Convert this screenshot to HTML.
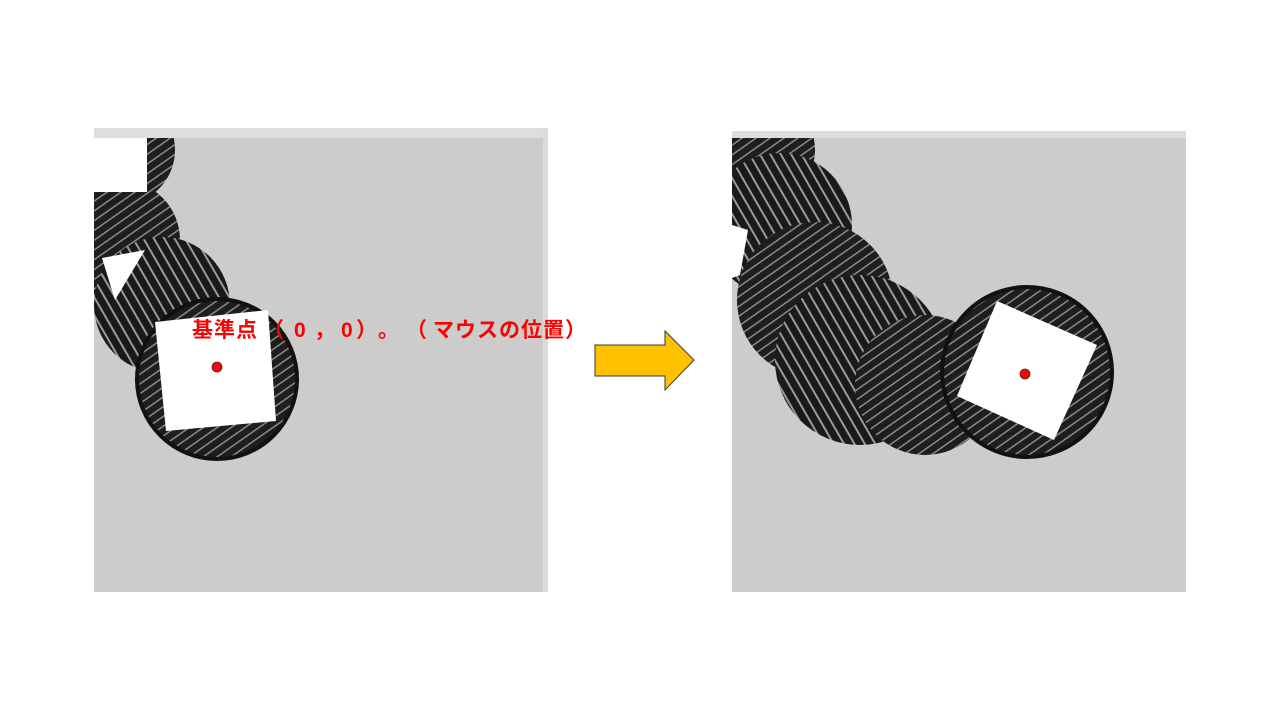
<!DOCTYPE html>
<html><head><meta charset="utf-8"><style>
html,body{margin:0;padding:0;background:#fff;width:1280px;height:720px;overflow:hidden}
svg{display:block}
.lbl{font-family:"Liberation Sans","Noto Sans CJK JP",sans-serif}
</style></head><body>
<svg width="1280" height="720" viewBox="0 0 1280 720">
<defs>
<pattern id="hatch" width="8" height="8" patternUnits="userSpaceOnUse" patternTransform="rotate(-35)">
<rect width="8" height="8" fill="#1e1e1e"/><rect x="0" y="2" width="8" height="1.5" fill="#8a8a8a"/>
</pattern>
<pattern id="hatch2" width="9" height="9" patternUnits="userSpaceOnUse" patternTransform="rotate(60)">
<rect width="9" height="9" fill="#1a1a1a"/><rect x="0" y="3" width="9" height="2" fill="#9a9a9a"/>
</pattern>
<clipPath id="lc"><rect x="94" y="138" width="449" height="454"/></clipPath>
<clipPath id="rc"><rect x="732" y="138" width="454" height="454"/></clipPath>
</defs>

<g>
<rect x="94" y="128" width="454" height="464" fill="#cccccc"/>
<rect x="94" y="128" width="454" height="10" fill="#dedede"/>
<rect x="543" y="128" width="5" height="464" fill="#dadada"/>
<g clip-path="url(#lc)">
<circle cx="120" cy="150" r="55" fill="url(#hatch)"/>
<circle cx="120" cy="240" r="60" fill="url(#hatch)"/>
<circle cx="162" cy="305" r="68" fill="url(#hatch2)"/>
<rect x="94" y="138" width="53" height="54" fill="#fff"/>
<polygon points="102,258 145,250 115,300" fill="#fff"/>
<circle cx="217" cy="379" r="80" fill="url(#hatch)" stroke="#111" stroke-width="4"/>
<polygon points="155,322 268,310 276,421 166,431" fill="#fff"/>
</g>
<circle cx="217" cy="367" r="5" fill="#ff0000" stroke="#333" stroke-width="0.8"/>
<text class="lbl" y="337" font-weight="bold" font-size="21" fill="#ff0000" x="192 214 236 263 294 314 341 356 378 406 433 455 477 499 521 543 565">基準点（0，0）。（マウスの位置）</text>
</g>

<g>
<polygon points="595,345 665,345 665,331 694,360 665,390 665,376 595,376" fill="#ffc000" stroke="#3a3a3a" stroke-width="1"/>
</g>

<g>
<rect x="732" y="131" width="454" height="461" fill="#cccccc"/>
<rect x="732" y="131" width="454" height="7" fill="#dedede"/>
<g clip-path="url(#rc)">
<circle cx="760" cy="150" r="55" fill="url(#hatch)"/>
<circle cx="780" cy="225" r="72" fill="url(#hatch2)"/>
<circle cx="815" cy="300" r="78" fill="url(#hatch)"/>
<circle cx="860" cy="360" r="85" fill="url(#hatch2)"/>
<circle cx="925" cy="385" r="70" fill="url(#hatch)"/>
<polygon points="732,225 748,230 740,275 732,278" fill="#fff"/>
<circle cx="1027" cy="372" r="85" fill="url(#hatch)" stroke="#111" stroke-width="4"/>
<polygon points="997,301 1097,345 1054,440 957,396" fill="#fff"/>
</g>
<circle cx="1025" cy="374" r="5" fill="#ff0000" stroke="#333" stroke-width="0.8"/>
</g>
</svg>
</body></html>
